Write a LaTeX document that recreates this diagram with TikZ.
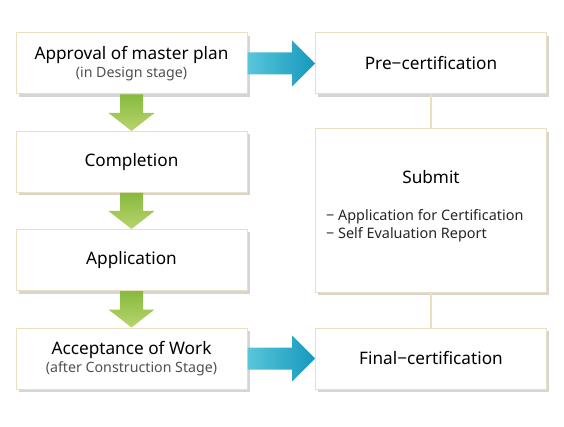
\documentclass[tikz,border=0pt]{standalone}
\usepackage{fontspec}
\setmainfont{Noto Sans}
\usepackage{tikz}
\usetikzlibrary{shapes,arrows,positioning,calc,shadows}

\definecolor{boxline}{RGB}{236,222,192}
\definecolor{subtext}{RGB}{80,80,80}
\definecolor{blueL}{RGB}{88,198,218}
\definecolor{blueD}{RGB}{22,152,188}
\definecolor{greenL}{RGB}{185,212,110}
\definecolor{greenD}{RGB}{135,186,62}

\newcommand{\subline}[1]{\\[-2pt]{\fontsize{14.2}{16}\selectfont\color{subtext}#1}}

\begin{document}
\begin{tikzpicture}[x=1pt,y=-1pt,
	stepbox/.style={draw=boxline, line width=1pt, fill=white, minimum width=231pt, minimum height=61pt,
		inner sep=0pt, align=center, font=\fontsize{17.2}{20}\selectfont,
		drop shadow={shadow xshift=2.5pt, shadow yshift=-3pt, opacity=0.3, fill=black!55}},
	bluearrow/.style={left color=blueL, right color=blueD, draw=none},
	greenarrow/.style={top color=greenD, bottom color=greenL, draw=none},
	link/.style={draw=boxline, line width=2pt}]
	\useasboundingbox (0,0) rectangle (564,427);

	\node[stepbox] (approval) at (131.5,63.5) {Approval of master plan\subline{(in Design stage)}};
	\node[stepbox] (completion) at (131.5,162) {Completion};
	\node[stepbox] (application) at (131.5,260) {Application};
	\node[stepbox] (acceptance) at (131.5,358.5) {Acceptance of Work\subline{(after Construction Stage)}};

	\node[stepbox] (pre) at (431,63.5) {Pre−certification};
	\node[stepbox, minimum height=163pt] (submit) at (431,210.5) {};
	\node[stepbox] (final) at (431,358.5) {Final−certification};

	\node[font=\fontsize{17.2}{20}\selectfont] (submittitle) at (431,177) {Submit};
	\node[anchor=north west, align=left, inner sep=0pt, font=\fontsize{14.4}{18.5}\selectfont, text=black!85]
		(submitlist) at (326,209) {− Application for Certification\\− Self Evaluation Report};

	\path[link] (pre) -- (submit);
	\path[link] (submit) -- (final);

	\shade[bluearrow] ($(approval.east)+(0,-11)$) -- ($(pre.west)+(-23,-11)$) -- ($(pre.west)+(-23,-23)$)
		-- (pre.west) -- ($(pre.west)+(-23,23)$) -- ($(pre.west)+(-23,11)$) -- ($(approval.east)+(0,11)$) -- cycle;
	\shade[bluearrow] ($(acceptance.east)+(0,-11)$) -- ($(final.west)+(-23,-11)$) -- ($(final.west)+(-23,-23)$)
		-- (final.west) -- ($(final.west)+(-23,23)$) -- ($(final.west)+(-23,11)$) -- ($(acceptance.east)+(0,11)$) -- cycle;

	\foreach \a/\b in {approval/completion, completion/application, application/acceptance}
		\shade[greenarrow] ($(\a.south)+(-11.5,0)$) -- ($(\b.north)+(-11.5,-18)$) -- ($(\b.north)+(-23,-18)$)
			-- (\b.north) -- ($(\b.north)+(23,-18)$) -- ($(\b.north)+(11.5,-18)$) -- ($(\a.south)+(11.5,0)$) -- cycle;
\end{tikzpicture}
\end{document}
